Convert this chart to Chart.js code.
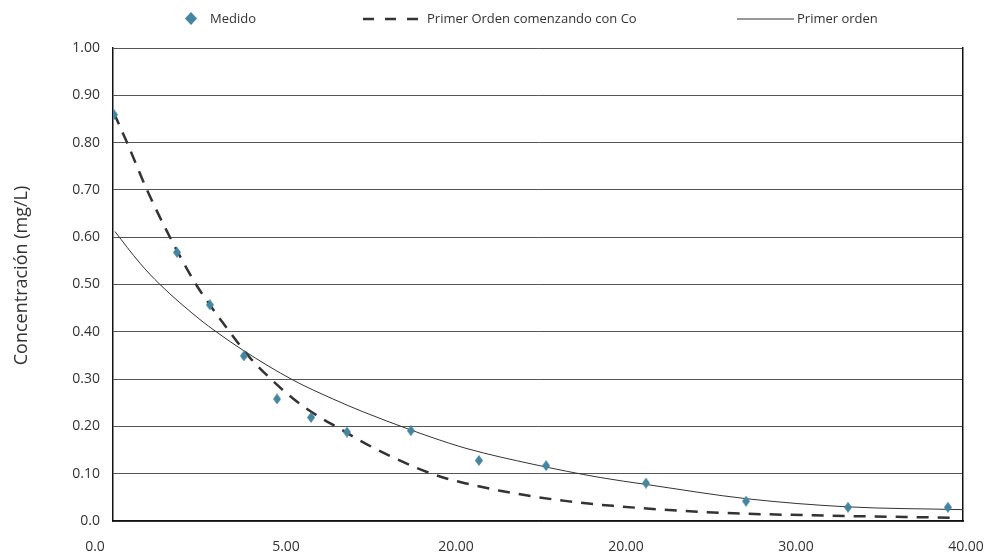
<!DOCTYPE html>
<html lang="es">

<head>
    <meta charset="UTF-8">
    <title>Concentración</title>
    <script src="https://cdn.jsdelivr.net/npm/chart.js"></script>
    <style>
        body { margin: 0; background: #fff; }
        .marco { position: relative; width: 992px; height: 558px; }
        .leyenda { position: absolute; top: 0; left: 0; width: 992px; height: 36px;
                   font: 13px "Open Sans", sans-serif; color: #333; }
        .leyenda span, .leyenda svg { position: absolute; }
        .leyenda span { top: 9px; line-height: 18px; }
    </style>
</head>

<body>
    <div class="marco">
        <canvas id="grafico" width="992" height="558"></canvas>
        <!-- leyenda -->
        <div class="leyenda">
            <svg style="left:185px; top:12px" width="12" height="13"><polygon points="6,0 12,6.5 6,13 0,6.5" fill="#4685a0"/></svg>
            <span style="left:210px">Medido</span>
            <svg style="left:363px; top:17px" width="56" height="4"><line x1="0" y1="2" x2="56" y2="2" stroke="#333" stroke-width="2.5" stroke-dasharray="11,11"/></svg>
            <span style="left:427px">Primer Orden comenzando con Co</span>
            <svg style="left:737px; top:17px" width="57" height="4"><line x1="0" y1="2" x2="57" y2="2" stroke="#333" stroke-width="1"/></svg>
            <span style="left:797px">Primer orden</span>
        </div>
    </div>

    <script>
        // datos medidos
        const medidoX = [0.05, 3.01, 4.56, 6.16, 7.72, 9.32, 11.01, 14.02, 17.22, 20.38, 25.08, 29.79, 34.59, 39.29];
        const medidoY = [0.859, 0.568, 0.457, 0.349, 0.258, 0.219, 0.188, 0.191, 0.128, 0.117, 0.080, 0.042, 0.029, 0.029];

        // curva primer orden comenzando con Co
        const coX = [0.05, 0.66, 1.60, 2.68, 3.91, 4.56, 5.84, 6.45, 7.48, 8.47, 9.60, 10.68, 11.95, 14.31, 15.53, 16.94, 18.21, 19.76, 21.36, 23.53, 28.24, 32.94, 39.4];
        const coY = [0.862, 0.80, 0.70, 0.60, 0.50, 0.457, 0.379, 0.345, 0.298, 0.259, 0.223, 0.195, 0.162, 0.112, 0.092, 0.076, 0.064, 0.052, 0.042, 0.032, 0.018, 0.012, 0.007];

        // curva primer orden
        const primerX = [0.09, 1.27, 2.21, 4.09, 4.89, 6.12, 8.47, 10.35, 11.76, 13.98, 14.92, 16.66, 19.76, 22.92, 25.13, 29.84, 34.54, 40.0];
        const primerY = [0.612, 0.545, 0.500, 0.426, 0.399, 0.361, 0.298, 0.258, 0.231, 0.193, 0.178, 0.153, 0.120, 0.092, 0.077, 0.047, 0.030, 0.024];

        // etiquetas del eje x (tal como aparecen)
        const etiquetasX = ['0.0', '5.00', '20.00', '20.00', '30.00', '40.00'];

        const pares = (xs, ys) => xs.map((x, i) => ({ x: x, y: ys[i] }));

        // rombo para los puntos medidos
        function rombo(w, h, color) {
            const c = document.createElement('canvas');
            c.width = w; c.height = h;
            const g = c.getContext('2d');
            g.fillStyle = color;
            g.beginPath();
            g.moveTo(w / 2, 0); g.lineTo(w, h / 2); g.lineTo(w / 2, h); g.lineTo(0, h / 2);
            g.closePath();
            g.fill();
            return c;
        }

        const fuente = { family: '"Open Sans", sans-serif', size: 14 };

        new Chart(document.getElementById('grafico'), {
            type: 'scatter',
            data: {
                datasets: [{
                    label: 'Medido',
                    data: pares(medidoX, medidoY),
                    pointStyle: rombo(8, 11, '#4685a0'),
                    pointRadius: 5,
                    showLine: false
                }, {
                    label: 'Primer Orden comenzando con Co',
                    data: pares(coX, coY),
                    showLine: true,
                    borderColor: '#333',
                    borderWidth: 2.5,
                    borderDash: [12, 9],
                    pointRadius: 0,
                    cubicInterpolationMode: 'monotone'
                }, {
                    label: 'Primer orden',
                    data: pares(primerX, primerY),
                    showLine: true,
                    borderColor: '#333',
                    borderWidth: 1,
                    pointRadius: 0,
                    cubicInterpolationMode: 'monotone'
                }]
            },
            options: {
                responsive: false,
                animation: false,
                layout: { padding: { top: 48, left: 7, right: 29, bottom: 0 } },
                plugins: { legend: { display: false }, tooltip: { enabled: false } },
                scales: {
                    x: {
                        type: 'linear',
                        min: 0, max: 40,
                        // alto fijo y sin relleno extra a los lados
                        afterFit: s => { s.height = 37; s.paddingLeft = 0; s.paddingRight = 0; },
                        grid: { display: false, drawTicks: false },
                        border: { display: true, color: '#111', width: 1.5 },
                        ticks: {
                            stepSize: 8,
                            padding: 18,
                            labelOffset: 3,
                            maxRotation: 0,
                            color: '#333',
                            font: fuente,
                            // la primera etiqueta queda un poco a la izquierda
                            callback: (v, i) => i === 0 ? etiquetasX[0] + '\u2003\u2003\u2003' : etiquetasX[i]
                        }
                    },
                    y: {
                        min: 0, max: 1,
                        afterFit: s => { s.width = 106; },
                        grid: { color: '#555', lineWidth: 1, drawTicks: false },
                        border: { display: true, color: '#111', width: 1.5 },
                        ticks: {
                            stepSize: 0.1,
                            padding: 13,
                            color: '#333',
                            font: fuente,
                            callback: v => v === 0 ? '0.0' : v.toFixed(2)
                        },
                        title: {
                            display: true,
                            // espacios al inicio para subir un poco el texto
                            text: '\u2002\u2002Concentración (mg/L)',
                            color: '#333',
                            font: { family: '"Open Sans", sans-serif', size: 18 },
                            padding: { top: 4, bottom: 4 }
                        }
                    },
                    y2: {
                        position: 'right',
                        min: 0, max: 1,
                        afterFit: s => { s.width = 0; },
                        grid: { display: false, drawTicks: false },
                        border: { display: true, color: '#111', width: 1.5 },
                        ticks: { display: false }
                    }
                }
            }
        });
    </script>
</body>

</html>
